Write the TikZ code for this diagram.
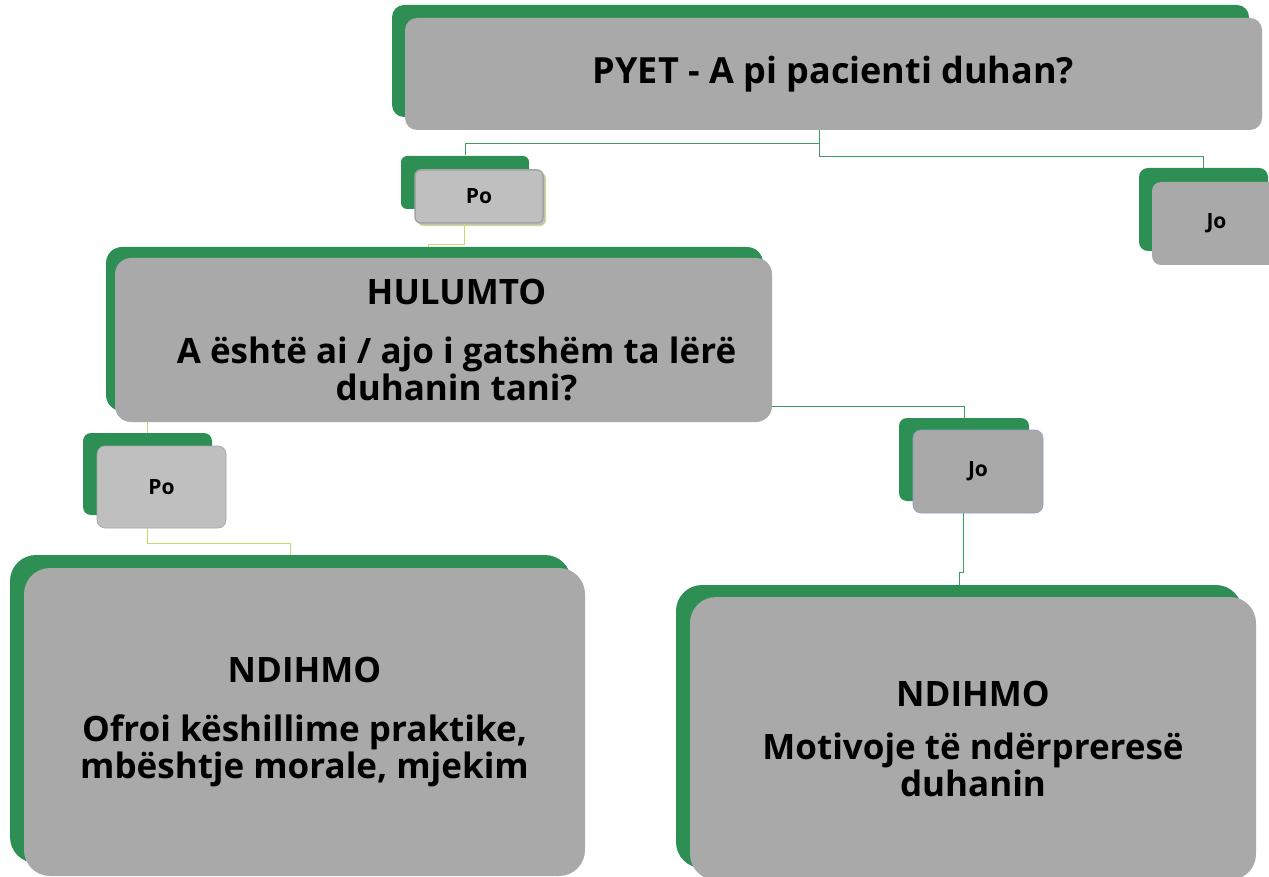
\documentclass[tikz,border=0pt]{standalone}
\usepackage{fontspec}
\setmainfont{Open Sans}
\usetikzlibrary{shadows}

\definecolor{boxgreen}{HTML}{2E8F55}
\definecolor{boxgray}{HTML}{A9A9A9}
\definecolor{palegray}{HTML}{BFBFBF}
\definecolor{edgegray}{HTML}{A3A3A3}
\definecolor{linkgreen}{HTML}{3C9A62}
\definecolor{linkyellow}{HTML}{C8D870}
\definecolor{limeedge}{HTML}{C9DC5C}
\definecolor{blueedge}{HTML}{8FA0C4}

\begin{document}
\begin{tikzpicture}[x=1pt,y=-1pt,
    bigtext/.style={font=\bfseries\fontsize{35}{37}\selectfont},
    smalltext/.style={font=\bfseries\fontsize{21}{24}\selectfont},
    greenbox/.style 2 args={fill=boxgray, inner sep=0pt, align=center,
        drop shadow={shadow xshift=#1, shadow yshift=#2, fill=boxgreen, opacity=1}},
    greenlink/.style={linkgreen, line width=0.8pt},
    yellowlink/.style={linkyellow, line width=0.8pt}]

    \useasboundingbox (0,0) rectangle (1269,877);
    \clip (0,0) rectangle (1269,877);

    % first question
    \node[greenbox={-13pt}{13pt}, rounded corners=12pt, minimum width=857pt, minimum height=112pt,
        font=\bfseries\fontsize{36}{40}\selectfont] (top) at (833.5,74) {PYET - A pi pacienti duhan?};

    \node[greenbox={-14pt}{14pt}, smalltext, rounded corners=6pt, fill=palegray, draw=edgegray, line width=1.5pt,
        drop shadow={draw=limeedge, line width=1.2pt}, minimum width=128pt, minimum height=53pt] (poA) at (479,196.5) {Po};
    \node[greenbox={-13pt}{14pt}, smalltext, rounded corners=9pt, minimum width=129pt, minimum height=83pt] (joA) at (1216.5,223.5) {Jo};

    % second question
    \node[greenbox={-9pt}{11pt}, bigtext, rounded corners=16pt, minimum width=657pt, minimum height=164pt] (hul) at (443.5,340)
        {\hspace*{26pt}HULUMTO\\[22pt]\hspace*{26pt}A është ai / ajo i gatshëm ta lërë\\\hspace*{26pt}duhanin tani?};

    \node[greenbox={-14pt}{13pt}, smalltext, rounded corners=8pt, fill=palegray, draw=edgegray, line width=0.6pt,
        minimum width=129pt, minimum height=82pt] (poB) at (161.5,487) {Po};
    \node[greenbox={-14pt}{12pt}, smalltext, rounded corners=8pt, draw=blueedge, line width=0.6pt,
        minimum width=130pt, minimum height=83pt] (joB) at (978,471.5) {Jo};

    % answers
    \node[greenbox={-14pt}{13pt}, bigtext, rounded corners=26pt, minimum width=561pt, minimum height=308pt] (ndL) at (304.5,722)
        {NDIHMO\\[22pt]Ofroi këshillime praktike,\\mbështje morale, mjekim};
    \node[greenbox={-14pt}{12pt}, bigtext, rounded corners=26pt, minimum width=566pt, minimum height=283pt] (ndR) at (973,738.5)
        {NDIHMO\\[16pt]Motivoje të ndërpreresë\\duhanin};

    % connectors
    \coordinate (topfoot) at ([xshift=-14.5pt]top.south);
    \draw[greenlink] (topfoot) -- ++(0,13) -| ([shift={(-14,-14)}]poA.north);
    \draw[greenlink] (topfoot) -- ++(0,26) -| ([shift={(-13,-14)}]joA.north);
    \draw[yellowlink] ([xshift=-15pt]poA.south) -- ++(0,21) -| ([shift={(-15.5,-11)}]hul.north);
    \coordinate (poBtop) at ([shift={(-14,-13)}]poB.north);
    \draw[yellowlink] (hul.south -| poBtop) -- (poBtop);
    \draw[greenlink] ([yshift=16pt]hul.south east) -| ([shift={(-14,-12)}]joB.north);
    \draw[yellowlink] ([xshift=-14.5pt]poB.south) -- ++(0,15) -| ([shift={(-14,-13)}]ndL.north);
    \draw[greenlink] ([xshift=-15pt]joB.south) -- ++(0,59) -| ([shift={(-14,-12)}]ndR.north);

\end{tikzpicture}
\end{document}
